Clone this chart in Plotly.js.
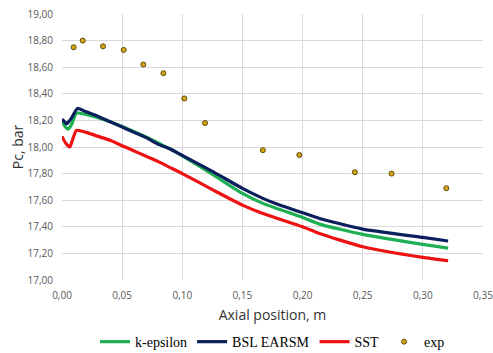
<!DOCTYPE html>
<html>
<head>
<meta charset="utf-8">
<script src="https://cdn.plot.ly/plotly-3.0.1.min.js"></script>
<style>html,body{margin:0;padding:0;background:#fff;}#chart{width:493px;height:353px;}</style>
</head>
<body>
<div id="chart"></div>
<script>
// k-epsilon
const keX = [0, 0.003, 0.005, 0.008, 0.012, 0.02, 0.03, 0.04, 0.05, 0.06, 0.07, 0.08, 0.09, 0.098, 0.1258, 0.15, 0.167, 0.20, 0.214, 0.25, 0.30, 0.321];
const keY = [18.19, 18.15, 18.135, 18.17, 18.255, 18.245, 18.22, 18.19, 18.155, 18.115, 18.075, 18.03, 17.985, 17.945, 17.79, 17.651, 17.576, 17.47, 17.42, 17.343, 17.268, 17.24];
// BSL EARSM
const bslX = [0, 0.002, 0.004, 0.008, 0.0128, 0.02, 0.03, 0.04, 0.05, 0.06, 0.07, 0.08, 0.09, 0.098, 0.1258, 0.15, 0.167, 0.181, 0.20, 0.214, 0.25, 0.30, 0.321];
const bslY = [18.21, 18.19, 18.175, 18.22, 18.29, 18.265, 18.23, 18.19, 18.15, 18.11, 18.07, 18.02, 17.985, 17.946, 17.813, 17.689, 17.614, 17.563, 17.506, 17.463, 17.383, 17.32, 17.293];
// SST
const sstX = [0, 0.003, 0.0065, 0.009, 0.012, 0.02, 0.03, 0.04, 0.05, 0.06, 0.07, 0.08, 0.09, 0.10, 0.1258, 0.15, 0.167, 0.20, 0.214, 0.25, 0.30, 0.321];
const sstY = [18.08, 18.03, 18.00, 18.06, 18.125, 18.11, 18.08, 18.05, 18.01, 17.97, 17.93, 17.89, 17.845, 17.80, 17.676, 17.563, 17.50, 17.40, 17.35, 17.25, 17.17, 17.145];
// experiment
const expX = [0.0097, 0.0172, 0.0341, 0.0513, 0.0676, 0.0843, 0.1017, 0.1189, 0.167, 0.1973, 0.2435, 0.274, 0.3195];
const expY = [18.75, 18.80, 18.757, 18.73, 18.62, 18.555, 18.365, 18.18, 17.976, 17.94, 17.81, 17.80, 17.69];

const names = ['k-epsilon', 'BSL EARSM', 'SST', 'exp'];
const xTicks = [0, 0.05, 0.10, 0.15, 0.20, 0.25, 0.30, 0.35];
const yTicks = [17.0, 17.2, 17.4, 17.6, 17.8, 18.0, 18.2, 18.4, 18.6, 18.8, 19.0];

const traces = [
  {x: keX, y: keY, name: names[0], mode: 'lines', line: {color: '#1EAF55', width: 3.2, shape: 'spline', smoothing: 0.5}},
  {x: bslX, y: bslY, name: names[1], mode: 'lines', line: {color: '#0B1F5C', width: 3.2, shape: 'spline', smoothing: 0.5}},
  {x: sstX, y: sstY, name: names[2], mode: 'lines', line: {color: '#EE1111', width: 3.2, shape: 'spline', smoothing: 0.5}},
  {x: expX, y: expY, name: names[3], mode: 'markers', marker: {color: '#D4A514', size: 5, line: {color: '#5C4A0A', width: 1}}}
];

const layout = {
  width: 493, height: 353,
  margin: {l: 62, r: 10, t: 14, b: 73},
  paper_bgcolor: '#fff', plot_bgcolor: '#fff',
  separators: ',.',
  showlegend: true,
  xaxis: {
    range: [0, 0.35001], tickvals: xTicks, tickformat: '.2f',
    showgrid: true, gridcolor: '#D9D9D9', gridwidth: 1, zeroline: false,
    showline: false, ticks: 'outside', ticklen: 6, tickcolor: 'rgba(0,0,0,0)',
    automargin: false, ticklabeloverflow: 'allow',
    tickfont: {family: 'Open Sans, sans-serif', size: 10, color: '#595959'},
    title: {text: 'Axial position, m', font: {family: 'Open Sans, sans-serif', size: 14, color: '#333'}, standoff: 9}
  },
  yaxis: {
    range: [17.0, 19.0], tickvals: yTicks, tickformat: '.2f',
    showgrid: true, gridcolor: '#D9D9D9', gridwidth: 1, zeroline: false,
    showline: false, ticks: 'outside', ticklen: 6, tickcolor: 'rgba(0,0,0,0)',
    automargin: false,
    tickfont: {family: 'Open Sans, sans-serif', size: 10, color: '#595959'},
    title: {text: 'Pc, bar', font: {family: 'Open Sans, sans-serif', size: 14, color: '#333'}, standoff: 0}
  },
  legend: {
    orientation: 'h', x: 0.5, xanchor: 'center', xref: 'paper',
    y: 0.031, yanchor: 'middle', yref: 'container',
    font: {family: 'Liberation Serif, serif', size: 14, color: '#000'},
    itemwidth: 30, tracegroupgap: 0
  }
};

Plotly.newPlot('chart', traces, layout, {displayModeBar: false, staticPlot: true});
</script>
</body>
</html>
